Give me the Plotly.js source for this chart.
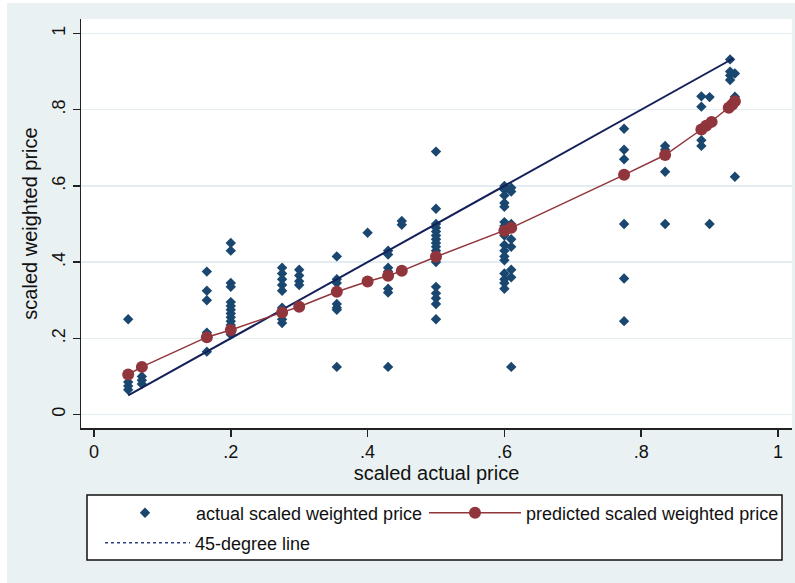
<!DOCTYPE html>
<html><head><meta charset="utf-8">
<script src="https://cdn.plot.ly/plotly-3.0.1.min.js"></script>
<style>html,body{margin:0;padding:0;background:#eaf1f3}</style>
</head><body><div id="chart" style="width:795px;height:583px"></div>
<script>
// scaled actual price value of each column of observed points
const columnX = [0.05, 0.07, 0.165, 0.2, 0.275, 0.3, 0.355, 0.4, 0.43, 0.45, 0.5, 0.6, 0.61, 0.775, 0.835, 0.888, 0.9, 0.93, 0.937];
// actual scaled weighted price values in each column
const columnY = [
  [0.25, 0.085, 0.075, 0.065],
  [0.10, 0.09, 0.08],
  [0.375, 0.325, 0.30, 0.215, 0.205, 0.165],
  [0.45, 0.43, 0.345, 0.335, 0.295, 0.285, 0.275, 0.265, 0.255, 0.245, 0.235, 0.225, 0.21],
  [0.385, 0.37, 0.355, 0.34, 0.325, 0.28, 0.265, 0.25, 0.24],
  [0.38, 0.365, 0.35, 0.34],
  [0.415, 0.355, 0.345, 0.29, 0.28, 0.275, 0.125],
  [0.477],
  [0.43, 0.42, 0.385, 0.375, 0.365, 0.33, 0.32, 0.125],
  [0.508, 0.498],
  [0.69, 0.54, 0.50, 0.49, 0.48, 0.47, 0.46, 0.45, 0.44, 0.43, 0.42, 0.41, 0.40, 0.335, 0.318, 0.305, 0.29, 0.25],
  [0.60, 0.59, 0.575, 0.555, 0.545, 0.505, 0.495, 0.47, 0.445, 0.43, 0.415, 0.405, 0.37, 0.355, 0.345, 0.33],
  [0.595, 0.585, 0.50, 0.49, 0.46, 0.44, 0.38, 0.36, 0.125],
  [0.75, 0.695, 0.67, 0.50, 0.357, 0.245],
  [0.705, 0.695, 0.637, 0.50],
  [0.835, 0.808, 0.72, 0.705],
  [0.833, 0.50],
  [0.932, 0.90, 0.89, 0.878],
  [0.895, 0.834, 0.624]
];
// predicted scaled weighted price
const predX = [0.05, 0.07, 0.165, 0.2, 0.275, 0.3, 0.355, 0.4, 0.43, 0.45, 0.5, 0.6, 0.61, 0.775, 0.835, 0.888, 0.895, 0.903, 0.928, 0.933, 0.937];
const predY = [0.105, 0.125, 0.203, 0.222, 0.268, 0.283, 0.322, 0.349, 0.364, 0.377, 0.414, 0.482, 0.49, 0.629, 0.681, 0.748, 0.758, 0.768, 0.805, 0.813, 0.822];
// 45-degree line
const lineX = [0.05, 0.935];
const lineY = [0.05, 0.935];
const tickVals = [0, 0.2, 0.4, 0.6, 0.8, 1];
const tickText = ['0', '.2', '.4', '.6', '.8', '1'];
const names = ['actual scaled weighted price', 'predicted scaled weighted price', '45-degree line'];

const actualX = [], actualY = [];
columnX.forEach((x, i) => columnY[i].forEach(y => { actualX.push(x); actualY.push(y); }));

const FONT = 'Liberation Sans, Arial, sans-serif';
const traces = [
  {x: actualX, y: actualY, type: 'scatter', mode: 'markers', name: names[0], legend: 'legend',
   marker: {symbol: 'diamond', size: 8, color: '#1a476f'}},
  {x: lineX, y: lineY, type: 'scatter', mode: 'lines', showlegend: false,
   line: {color: '#14205a', width: 2}},
  {x: predX, y: predY, type: 'scatter', mode: 'lines+markers', name: names[1], legend: 'legend2',
   line: {color: '#90353b', width: 1.5}, marker: {symbol: 'circle', size: 12, color: '#90353b'}},
  {x: [null], y: [null], type: 'scatter', mode: 'lines', name: names[2], legend: 'legend3',
   line: {color: '#2c3f82', width: 1.5, dash: '3px,3px'}}
];

const axisCommon = {
  tickvals: tickVals, ticktext: tickText, ticks: 'outside', ticklen: 7, tickwidth: 1.5,
  tickcolor: '#222', showline: true, linecolor: '#222', linewidth: 1.5, zeroline: false,
  tickfont: {family: FONT, size: 18, color: '#111'}
};

// plot area: 81..792 px horizontally, 19..428 px vertically
const PW = 711, PH = 409;
const px = v => (v - 81) / PW;
const py = v => (428 - v) / PH;

const legendCommon = {
  xanchor: 'left', yanchor: 'middle', bgcolor: 'rgba(0,0,0,0)', borderwidth: 0,
  font: {family: FONT, size: 18, color: '#111'}
};

const layout = {
  width: 795, height: 583,
  paper_bgcolor: '#eaf1f3', plot_bgcolor: '#ffffff',
  margin: {l: 81, r: 3, t: 19, b: 155, autoexpand: false},
  font: {family: FONT, color: '#111'},
  xaxis: Object.assign({}, axisCommon, {
    range: [-0.019, 1.0205], showgrid: false,
    title: {text: 'scaled actual price', standoff: 4, font: {family: FONT, size: 20, color: '#111'}}
  }),
  yaxis: Object.assign({}, axisCommon, {
    range: [-0.0354, 1.038], showgrid: true, gridcolor: '#e3edf1', gridwidth: 1.5, tickangle: -90,
    title: {text: 'scaled weighted price', standoff: 6, font: {family: FONT, size: 20, color: '#111'}}
  }),
  legend: Object.assign({}, legendCommon, {x: px(94), y: py(513), itemwidth: 92}),
  legend2: Object.assign({}, legendCommon, {x: px(424), y: py(513), itemwidth: 92}),
  legend3: Object.assign({}, legendCommon, {x: px(100), y: py(543), itemwidth: 85}),
  shapes: [
    {type: 'rect', xref: 'paper', yref: 'paper', x0: px(0), x1: px(7), y0: py(583), y1: py(0),
     fillcolor: '#ffffff', line: {width: 0}, layer: 'below'},
    {type: 'rect', xref: 'paper', yref: 'paper', x0: px(0), x1: px(795), y0: py(3), y1: py(0),
     fillcolor: '#ffffff', line: {width: 0}, layer: 'below'},
    {type: 'rect', xref: 'paper', yref: 'paper', x0: px(87), x1: px(782), y0: py(560), y1: py(495),
     fillcolor: '#ffffff', line: {width: 1.5, color: '#111'}, layer: 'below'}
  ]
};

Plotly.newPlot('chart', traces, layout, {displayModeBar: false, staticPlot: true});
</script></body></html>
